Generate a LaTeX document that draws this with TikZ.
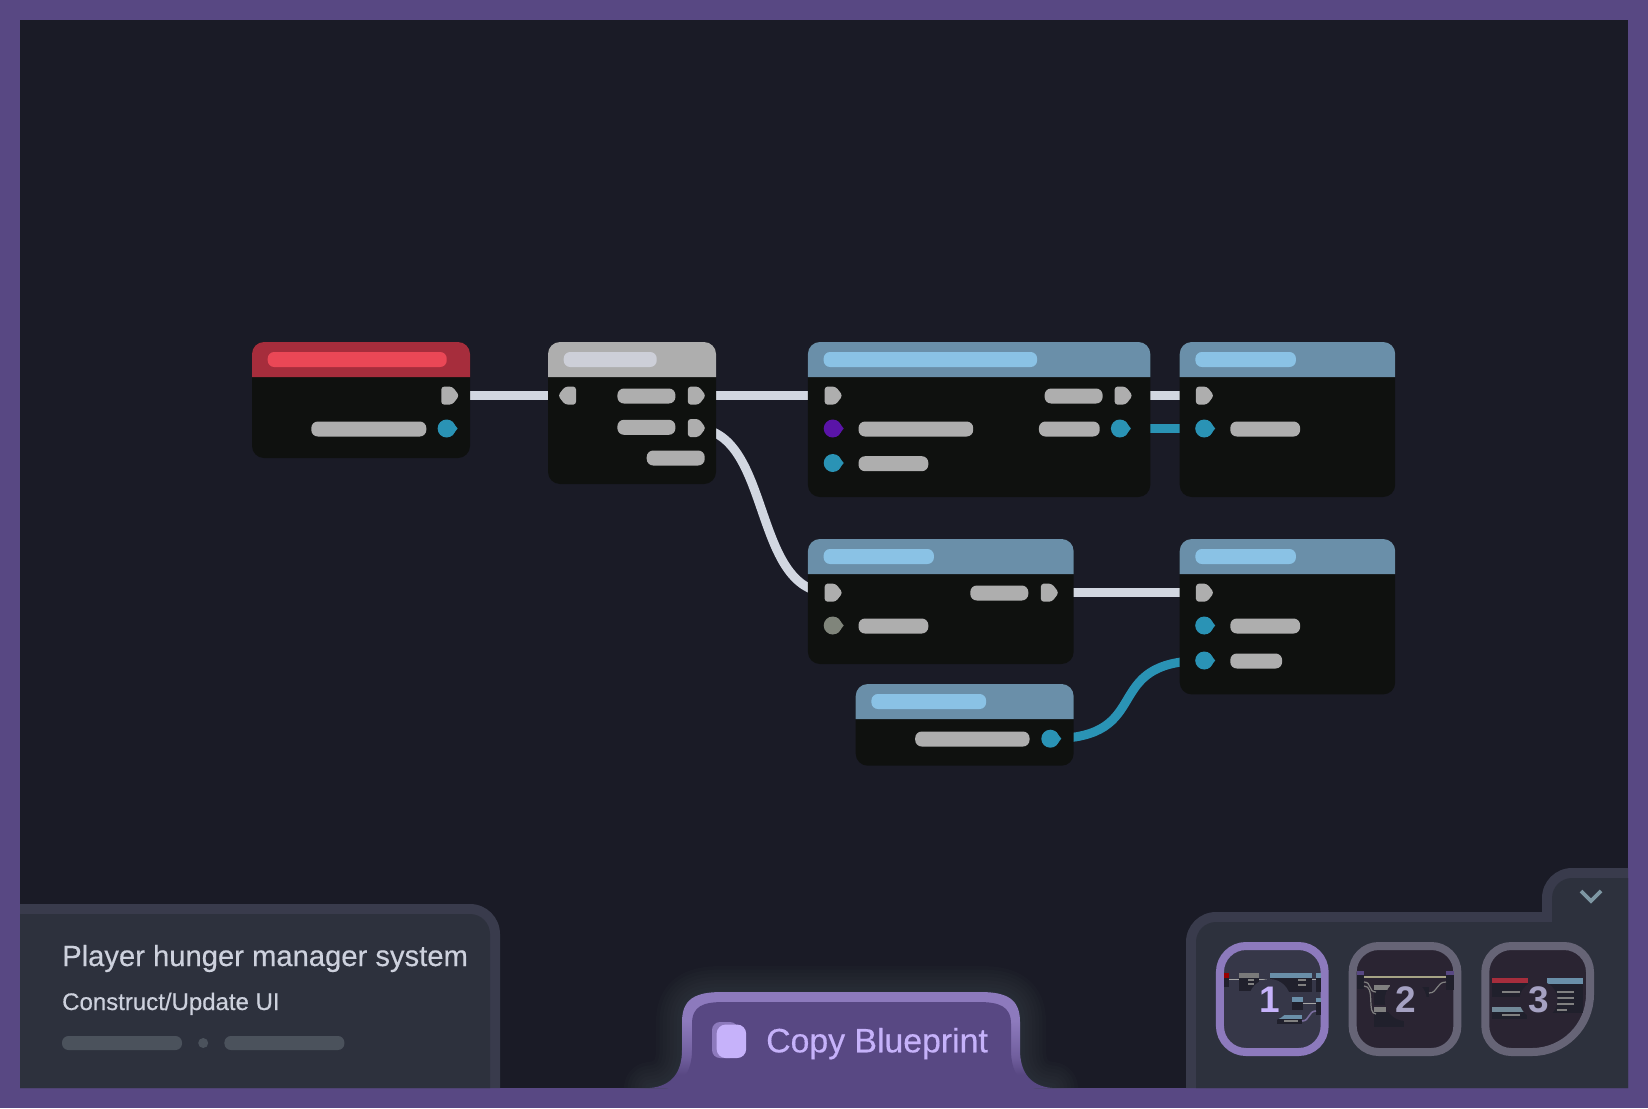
\documentclass[tikz,border=0pt]{standalone}
\usepackage{fontspec}
\setmainfont{Liberation Sans}
\newfontfamily\medfont[FakeBold=0.4]{Liberation Sans}
\usepackage{tikz}
\usetikzlibrary{positioning, shapes.symbols, backgrounds}

\definecolor{framecol}{HTML}{584883}
\definecolor{canvascol}{HTML}{1A1B26}
\definecolor{bodycol}{HTML}{0F110F}
\definecolor{redhead}{HTML}{A62D3C}
\definecolor{redpill}{HTML}{EA4756}
\definecolor{greyhead}{HTML}{AEAEAE}
\definecolor{greypill}{HTML}{CDCFD8}
\definecolor{bluehead}{HTML}{6A8FA9}
\definecolor{bluepill}{HTML}{8AC2E5}
\definecolor{wirewhite}{HTML}{D2D7E1}
\definecolor{wireblue}{HTML}{2A93B5}
\definecolor{pinviolet}{HTML}{5A14A8}
\definecolor{pingrey}{HTML}{80857B}
\definecolor{paneledge}{HTML}{393B4C}
\definecolor{panelfill}{HTML}{2D313D}
\definecolor{barcol}{HTML}{4B525C}
\definecolor{titlecol}{HTML}{CDD1DD}
\definecolor{btnedge}{HTML}{8D7ABD}
\definecolor{btnmid}{HTML}{705E9D}
\definecolor{btntext}{HTML}{C6B2FA}
\definecolor{glowcol}{HTML}{4A5A5E}
\definecolor{chevcol}{HTML}{7E97A3}
\definecolor{thumbedge}{HTML}{666476}
\definecolor{thumbdark}{HTML}{2A2432}
\definecolor{thumblight}{HTML}{363748}
\definecolor{numcol}{HTML}{A5A1C2}
\definecolor{minibody}{HTML}{20202C}

\pgfdeclareverticalshading{btnfade}{100bp}{color(0bp)=(framecol); color(32bp)=(framecol); color(41bp)=(btnmid); color(60bp)=(btnedge); color(100bp)=(btnedge)}

% header band and title bar of a block
\newcommand{\bphead}[4]{
    \fill[#2, rounded corners=12pt] (#1.north west) ++(0,35) -- ++(0,-35) -- (#1.north east) -- ++(0,35);
    \node[pill, fill=#3, minimum width=#4pt] (#1title) at ([shift={(15.7,17.5)}]#1.north west) {};
}
\newcommand{\minibox}[6]{
    \fill[minibody] (#1,#2) rectangle (#3,#4);
    \fill[#6] (#1,#2) rectangle (#3,#5);
}
\newcommand{\btnoutline}{(650,1088) .. controls (672,1086) and (682,1072) .. (682,1050) -- (682,1022) .. controls (682,999) and (695,992) .. (722,992) -- (980,992) .. controls (1007,992) and (1020,999) .. (1020,1022) -- (1020,1050) .. controls (1020,1072) and (1030,1086) .. (1052,1088) -- cycle}

\begin{document}
\begin{tikzpicture}[
        x=1pt, y=-1pt,
        block/.style={rectangle, fill=bodycol, rounded corners=12pt, inner sep=0pt, outer sep=0pt, anchor=north west},
        pill/.style={rectangle, fill=greyhead, rounded corners=6.5pt, minimum height=15pt, inner sep=0pt, outer sep=0pt, anchor=west},
        execpin/.style={signal, signal to=east, signal pointer angle=105, fill=greyhead, rounded corners=3pt, minimum height=18pt, minimum width=18pt, inner sep=0pt, outer sep=0pt, xshift=-2.5pt},
        execback/.style={execpin, signal to=west, xshift=5pt},
        datapin/.style={circle, fill=#1, minimum size=18pt, inner sep=0pt, outer sep=0pt,
            append after command={\pgfextra{\fill[#1] (\tikzlastnode.55) -- ([xshift=11pt]\tikzlastnode.center) -- (\tikzlastnode.-55) -- cycle;}}},
        datapin/.default=wireblue,
        wire/.style={line width=9pt, wirewhite},
        thumb/.style={rectangle, draw, line width=8pt, rounded corners=26pt, minimum width=104.7pt, minimum height=106pt, inner sep=0pt},
        thumbnum/.style={circle, minimum size=42pt, inner sep=0pt, font=\fontsize{37}{37}\selectfont\bfseries},
        miniline/.style={line width=1.6pt, #1},
        miniline/.default={gray!70}
    ]
        \useasboundingbox (0,0) rectangle (1648,1108);
        \begin{pgfonlayer}{background}
            \fill[framecol] (0,0) rectangle (1648,1108);
            \fill[canvascol] (20,20) rectangle (1628,1088);
        \end{pgfonlayer}

        \node[block, minimum width=218pt, minimum height=116pt] (spawn) at (252,342) {};
        \node[block, minimum width=168pt, minimum height=142pt, right=78pt of spawn.north east, anchor=north west] (branch) {};
        \node[block, minimum width=342.4pt, minimum height=155pt, right=91.9pt of branch.north east, anchor=north west] (widget) {};
        \node[block, minimum width=215.5pt, minimum height=155pt, right=29.4pt of widget.north east, anchor=north west] (viewport) {};
        \node[block, minimum width=265.7pt, minimum height=125pt, below=42pt of widget.south west, anchor=north west] (update) {};
        \node[block, minimum width=215.5pt, minimum height=155.4pt, right=106.1pt of update.north east, anchor=north west] (setbar) {};
        \node[block, minimum width=217.9pt, minimum height=81.7pt, below=20pt of update.south east, anchor=north east] (getter) {};

        \bphead{spawn}{redhead}{redpill}{179}
        \bphead{branch}{greyhead}{greypill}{93}
        \bphead{widget}{bluehead}{bluepill}{213.5}
        \bphead{viewport}{bluehead}{bluepill}{100.5}
        \bphead{update}{bluehead}{bluepill}{110.3}
        \bphead{setbar}{bluehead}{bluepill}{100.5}
        \bphead{getter}{bluehead}{bluepill}{114.7}

        \node[execpin] (spawnout) at ([shift={(197.3,53.6)}]spawn.north west) {};
        \node[datapin] (spawnpin) at ([shift={(194.6,86.5)}]spawn.north west) {};
        \node[pill, minimum width=115pt] (spawnlabel) at ([shift={(59.3,87)}]spawn.north west) {};

        \node[execback] (branchin) at ([shift={(20,53.6)}]branch.north west) {};
        \node[pill, minimum width=58pt] (branchlabela) at ([shift={(69.4,54)}]branch.north west) {};
        \node[execpin] (branchouta) at ([shift={(147.9,53.6)}]branch.north west) {};
        \node[pill, minimum width=58pt] (branchlabelb) at ([shift={(69.4,85.3)}]branch.north west) {};
        \node[execpin] (branchoutb) at ([shift={(147.9,86)}]branch.north west) {};
        \node[pill, minimum width=58pt] (branchlabelc) at ([shift={(98.7,116)}]branch.north west) {};

        \node[execpin] (widgetin) at ([shift={(24.8,53.6)}]widget.north west) {};
        \node[pill, minimum width=58pt] (widgetlabela) at ([shift={(236.7,54)}]widget.north west) {};
        \node[execpin] (widgetout) at ([shift={(314.8,53.6)}]widget.north west) {};
        \node[datapin=pinviolet] (widgetclass) at ([shift={(24.8,86.5)}]widget.north west) {};
        \node[pill, minimum width=114.7pt] (widgetlabelb) at ([shift={(50.6,87)}]widget.north west) {};
        \node[pill, minimum width=60.8pt] (widgetlabelc) at ([shift={(231,87)}]widget.north west) {};
        \node[datapin] (widgetpin) at ([shift={(312,86.5)}]widget.north west) {};
        \node[datapin] (widgetowner) at ([shift={(24.8,121)}]widget.north west) {};
        \node[pill, minimum width=69.8pt] (widgetlabeld) at ([shift={(50.6,121.7)}]widget.north west) {};

        \node[execpin] (viewportin) at ([shift={(24.3,53.6)}]viewport.north west) {};
        \node[datapin] (viewportpin) at ([shift={(24.5,86.5)}]viewport.north west) {};
        \node[pill, minimum width=69.8pt] (viewportlabel) at ([shift={(50.6,87)}]viewport.north west) {};

        \node[execpin] (updatein) at ([shift={(24.8,53.7)}]update.north west) {};
        \node[pill, minimum width=58pt] (updatelabela) at ([shift={(162.4,54)}]update.north west) {};
        \node[execpin] (updateout) at ([shift={(241,53.7)}]update.north west) {};
        \node[datapin=pingrey] (updatepin) at ([shift={(24.8,86.5)}]update.north west) {};
        \node[pill, minimum width=69.8pt] (updatelabelb) at ([shift={(50.6,87)}]update.north west) {};

        \node[execpin] (setbarin) at ([shift={(24.3,53.7)}]setbar.north west) {};
        \node[datapin] (setbarpina) at ([shift={(24.5,86.5)}]setbar.north west) {};
        \node[pill, minimum width=69.8pt] (setbarlabela) at ([shift={(50.6,87)}]setbar.north west) {};
        \node[datapin] (setbarpinb) at ([shift={(24.5,121.5)}]setbar.north west) {};
        \node[pill, minimum width=51.8pt] (setbarlabelb) at ([shift={(50.6,122)}]setbar.north west) {};

        \node[pill, minimum width=114.3pt] (getterlabel) at ([shift={(59.5,55)}]getter.north west) {};
        \node[datapin] (getterpin) at ([shift={(194.6,54.7)}]getter.north west) {};

        \begin{pgfonlayer}{background}
            \draw[wire] (spawnout.center) -- (branchin.center);
            \draw[wire] (branchouta.center) -- (widgetin.center);
            \draw[wire] (widgetout.center) -- (viewportin.center);
            \draw[wire, wireblue] (widgetpin.center) -- (viewportpin.center);
            \draw[wire] (updateout.center) -- (setbarin.center);
            \draw[wire] (branchoutb.center) .. controls +(80,0) and +(-80,0) .. (updatein.center);
            \draw[wire, wireblue] (getterpin.center) .. controls +(107,0) and +(-107,0) .. (setbarpinb.center);
        \end{pgfonlayer}

        % bottom left panel
        \fill[paneledge] (20,904) [rounded corners=30pt] -- (500,904) [sharp corners] -- (500,1088) -- (20,1088) -- cycle;
        \fill[panelfill] (20,914) [rounded corners=20pt] -- (490,914) [sharp corners] -- (490,1088) -- (20,1088) -- cycle;
        \node[anchor=base west, inner sep=0pt, text=titlecol, font=\medfont\fontsize{29.2}{29}\selectfont] (title) at (62,966) {Player hunger manager system};
        \node[anchor=base west, inner sep=0pt, text=titlecol, font=\medfont\fontsize{24}{24}\selectfont] (subtitle) at (62,1010) {Construct/Update UI};
        \node[pill, fill=barcol, minimum width=120pt, minimum height=14pt] (bara) at (62,1043) {};
        \node[circle, fill=barcol, minimum size=10pt, inner sep=0pt, right=16pt of bara] (bardot) {};
        \node[pill, fill=barcol, minimum width=120pt, minimum height=14pt, right=16pt of bardot] (barb) {};

        % copy button
        \begin{scope}
            \clip (20,20) rectangle (1628,1088);
            \foreach \w in {52,45,...,3}
                \draw[glowcol, line width=\w pt, opacity=0.05, line join=round] \btnoutline;
        \end{scope}
        \shade[shading=btnfade] \btnoutline;
        \fill[framecol] (662,1090) .. controls (682,1086) and (692,1072) .. (692,1050) -- (692,1024) .. controls (692,1006) and (703,1002) .. (724,1002) -- (978,1002) .. controls (999,1002) and (1011,1006) .. (1011,1024) -- (1011,1050) .. controls (1011,1072) and (1020,1086) .. (1040,1090) -- cycle;
        \fill[btnedge, rounded corners=8pt] (712,1022) rectangle (738,1058);
        \node[rectangle, fill=btntext, rounded corners=9pt, minimum width=29.5pt, minimum height=33.5pt, inner sep=0pt] (copyicon) at (731.4,1041.3) {};
        \node[anchor=base west, inner sep=0pt, text=btntext, font=\medfont\fontsize{33.8}{34}\selectfont] (copylabel) at (766,1052.3) {Copy Blueprint};

        % bottom right panel
        \fill[paneledge, rounded corners=30pt] (1186,1088) -- (1186,912) [sharp corners] -- (1542,912) [rounded corners=30pt] -- (1542,868) [sharp corners] -- (1628,868) -- (1628,1088) -- cycle;
        \fill[panelfill, rounded corners=20pt] (1196,1088) -- (1196,922) [sharp corners] -- (1552,922) [rounded corners=20pt] -- (1552,878) [sharp corners] -- (1628,878) -- (1628,1088) -- cycle;
        \draw[chevcol, line width=3.8pt] (1581,891) -- (1591,901) -- (1601,891);

        % thumbnail 1
        \node[thumb, draw=btnedge, fill=thumblight] (thumbone) at (1272.3,999) {};
        \minibox{1224}{973.3}{1229}{986.7}{977.7}{red!60!black}
        \minibox{1239}{973.3}{1259}{990.7}{978}{greyhead!70!black}
        \minibox{1270}{973.3}{1312}{991.7}{978}{bluehead}
        \minibox{1316}{973.3}{1320.7}{991.7}{978}{bluehead}
        \minibox{1292}{997.3}{1303}{1010}{1001.5}{bluehead}
        \minibox{1316}{997.7}{1320.7}{1015}{1001.5}{bluehead}
        \minibox{1277}{1015}{1302.3}{1024.3}{1019.3}{bluehead}
        \draw[miniline] (1229,979.6) -- (1239,979.6);
        \draw[miniline] (1259,979.6) -- (1270,979.6);
        \draw[miniline] (1312,979.6) -- (1316,979.6);
        \draw[miniline] (1303,1003.3) -- (1316,1003.3);
        \draw[miniline=framecol!80!white] (1302,1021) .. controls (1310,1021) and (1308,1011) .. (1316,1011);
        \draw[miniline=gray] (1248,980) -- (1254,980);
        \draw[miniline=gray] (1248,984) -- (1254,984);
        \draw[miniline=gray] (1253,988) -- (1257,988);
        \draw[miniline=gray] (1298,980) -- (1306,980);
        \draw[miniline=gray] (1298,985) -- (1306,985);
        \draw[miniline=gray] (1284,1021) -- (1298,1021);
        \node[thumbnum, fill=thumblight, text=btntext] (numone) at (1269.5,1000) {1};

        % thumbnail 2
        \node[thumb, draw=thumbedge, fill=thumbdark] (thumbtwo) at (1405,999) {};
        \minibox{1356.7}{970.7}{1364}{989.3}{975}{framecol}
        \minibox{1446}{970.7}{1453.7}{990}{975}{framecol}
        \minibox{1374}{985}{1390}{1005}{990}{gray}
        \minibox{1374}{1007}{1386}{1026.7}{1012}{gray}
        \fill[minibody] (1374,1012) rectangle (1404,1026.7);
        \fill[minibody] (1421.7,986.7) rectangle (1429,997);
        \draw[miniline=gray!80!yellow] (1364,977) -- (1446,977);
        \draw[miniline=gray, line width=1.2pt] (1364,982) .. controls (1372,982) and (1368,992) .. (1376,992);
        \draw[miniline=gray, line width=1.2pt] (1364,986) .. controls (1376,986) and (1366,1014) .. (1376,1014);
        \draw[miniline=gray, line width=1.2pt] (1429,993) .. controls (1438,993) and (1436,982) .. (1446,982);
        \node[thumbnum, fill=thumbdark, text=numcol] (numtwo) at (1405.7,1000) {2};

        % thumbnail 3
        \draw[thumbedge, line width=8pt, fill=thumbdark, rounded corners=26pt] (1485.3,999) -- (1485.3,946) -- (1590,946) [rounded corners=58pt] -- (1590,1052) [rounded corners=26pt] -- (1485.3,1052) -- cycle;
        \minibox{1492.3}{977.7}{1528.3}{996.7}{983}{redhead}
        \minibox{1546.7}{977.7}{1583.3}{1013}{983.7}{bluehead}
        \minibox{1492.3}{1006.7}{1527}{1019}{1012}{bluehead!60!gray}
        \draw[miniline=gray] (1502,992) -- (1520,992);
        \draw[miniline=gray] (1502,1015) -- (1520,1015);
        \draw[miniline=gray] (1556.7,992) -- (1574.3,992);
        \draw[miniline=gray] (1556.7,998) -- (1574.3,998);
        \draw[miniline=gray] (1556.7,1004) -- (1574.3,1004);
        \draw[miniline=gray] (1556.7,1010) -- (1567,1010);
        \node[thumbnum, fill=thumbdark, text=numcol, minimum size=38pt] (numthree) at (1538.5,1000) {3};
    \end{tikzpicture}
\end{document}
